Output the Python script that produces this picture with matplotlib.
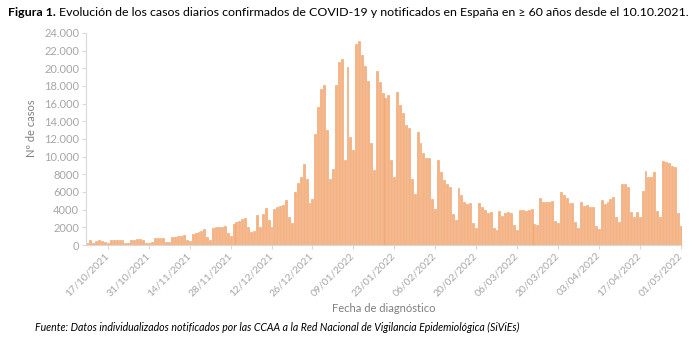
import numpy as np
import pandas as pd
import matplotlib
matplotlib.use("Agg")
import matplotlib.pyplot as plt
import matplotlib.transforms as mtransforms

plt.rcParams['font.family'] = ['Lato', 'DejaVu Sans']

# daily cases, 10/10/2021 .. 01/05/2022
dates = pd.date_range('2021-10-10', '2022-05-01', freq='D')
cases = [
    200, 580, 200, 480, 520, 500, 300,            # 10/10 - 16/10
    180, 560, 580, 560, 600, 540, 260,            # 17/10
    200, 620, 620, 640, 650, 600, 280,            # 24/10
    220, 300, 760, 780, 800, 760, 380,            # 31/10
    300, 900, 920, 1000, 1060, 1150, 560,         # 07/11
    420, 1300, 1400, 1470, 1580, 1780, 940,       # 14/11
    600, 1880, 2000, 2070, 2070, 2190, 1400,      # 21/11
    1000, 2380, 2640, 2760, 2940, 3020, 2080,     # 28/11
    1510, 1620, 3400, 2080, 3470, 4230, 2830,     # 05/12
    2000, 4080, 4270, 4420, 4490, 5100, 3210,     # 12/12
    2530, 5960, 7060, 7740, 9170, 7440, 4790,     # 19/12
    5210, 12570, 15590, 17670, 18080, 13020, 7510,  # 26/12
    8570, 18080, 20760, 21060, 9630, 20120, 12270,  # 02/01
    10760, 22730, 23100, 21520, 20310, 18570, 11510,  # 09/01
    8490, 19740, 18500, 17180, 16610, 16990, 9630,  # 16/01
    7740, 17370, 15860, 14990, 13590, 13210, 7440,  # 23/01
    5780, 12830, 11510, 10460, 9890, 9820, 5170,  # 30/01
    4040, 9630, 8270, 7360, 6910, 6530, 3470,     # 06/02
    2830, 6490, 5660, 4910, 4610, 4720, 2530,     # 13/02
    1890, 4790, 4340, 3960, 3660, 3740, 1960,     # 20/02
    1700, 3890, 3320, 3590, 3700, 3590, 2270,     # 27/02
    1700, 3960, 3960, 3890, 3960, 4080, 2380,     # 06/03
    2230, 5290, 4830, 4830, 4830, 5020, 2720,     # 13/03
    2450, 6040, 5660, 5360, 4790, 4720, 2610,     # 20/03
    1890, 4910, 4420, 4490, 4270, 4270, 2190,     # 27/03
    1810, 5100, 4640, 4910, 5170, 5400, 3130,     # 03/04
    2570, 6910, 6870, 6610, 3780, 3210, 3780,     # 10/04
    3210, 6150, 8420, 7740, 7740, 8270, 3890,     # 17/04
    3210, 9510, 9360, 9320, 8950, 8870, 3660,     # 24/04
    2150,                                          # 01/05
]

yticks = np.arange(0, 24001, 2000)
ytick_labels = [f'{v:,}'.replace(',', '.') if v >= 10000 else str(v) for v in yticks]

x = np.arange(len(dates))
tick_idx = [i for i, d in enumerate(dates) if (d - pd.Timestamp('2021-10-17')).days % 14 == 0]
tick_labels = [dates[i].strftime('%d/%m/%Y') for i in tick_idx]

fig = plt.figure(figsize=(6.97, 3.61), dpi=100)
ax = fig.add_axes([86 / 697, 1 - 245 / 361, 596 / 697, 212 / 361])

ax.bar(x, cases, width=0.66, color='#f5b383', edgecolor='#f0a067', linewidth=0.4)

ax.set_xlim(-0.5, len(dates) - 0.5)
ax.set_ylim(0, 24000)
ax.set_yticks(yticks)
ax.set_yticklabels(ytick_labels)
ax.set_xticks(tick_idx)
ax.set_xticklabels(tick_labels, rotation=45, ha='right', va='center', rotation_mode='anchor')

# push the rotated labels like excel does
offset = mtransforms.ScaledTranslation(13 / 100, -12 / 100, fig.dpi_scale_trans)
for lab in ax.get_xticklabels():
    lab.set_transform(lab.get_transform() + offset)

for s in ['top', 'right']:
    ax.spines[s].set_visible(False)
ax.spines['left'].set_color('#d9d9d9')
ax.spines['bottom'].set_color('#d9d9d9')
ax.tick_params(axis='y', colors='#d9d9d9', labelcolor='#a6a6a6', labelsize=8, length=3, pad=2)
ax.tick_params(axis='x', colors='#d9d9d9', labelcolor='#a6a6a6', labelsize=7.5, length=3)

ax.set_ylabel('Nº de casos', color='#7f7f7f', fontsize=8)
ax.yaxis.set_label_coords(-0.083, 0.55)
fig.text(384 / 697, 1 - 308 / 361, 'Fecha de diagnóstico', color='#7f7f7f', fontsize=8,
         ha='center', va='center')

fig.text(35 / 697, 1 - 327 / 361,
         'Fuente: Datos individualizados notificados por las CCAA a la Red Nacional de Vigilancia Epidemiológica (SiViEs)',
         fontsize=7.6, style='italic', ha='left', va='center', color='black')

# title: bold prefix + normal text
renderer = fig.canvas.get_renderer()
t1 = fig.text(8 / 697, 1 - 12 / 361, 'Figura 1.', fontsize=8.9, fontweight='bold', ha='left', va='center')
bb = t1.get_window_extent(renderer)
fig.text(bb.x1 / 697 + 3 / 697, 1 - 12 / 361,
         'Evolución de los casos diarios confirmados de COVID-19 y notificados en España en ≥ 60 años desde el 10.10.2021.',
         fontsize=8.9, ha='left', va='center')

fig.savefig('out.png', dpi=100)
